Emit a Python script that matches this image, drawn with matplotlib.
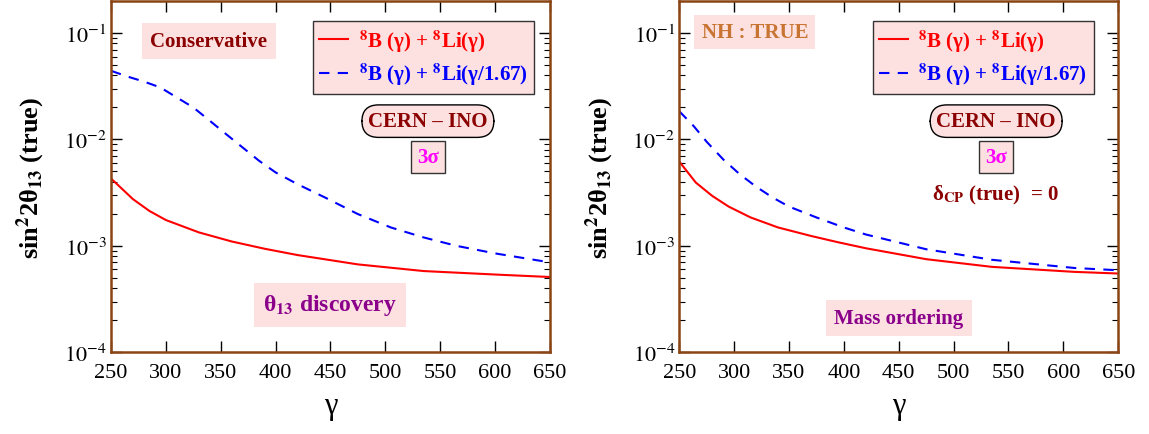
import numpy as np
import matplotlib
matplotlib.use("Agg")
import matplotlib.pyplot as plt
from matplotlib.ticker import LogLocator, FixedLocator

plt.rcParams['font.family'] = ['Liberation Serif', 'DejaVu Serif']
plt.rcParams['mathtext.fontset'] = 'stix'

# values (gamma on x, sin^2 2theta13 on y)
cons_red_x = [250, 270, 285, 300, 330, 360, 390, 420, 475, 535, 605, 650]
cons_red = [4.3e-3, 2.75e-3, 2.13e-3, 1.75e-3, 1.34e-3, 1.10e-3, 9.4e-4,
            8.2e-4, 6.7e-4, 5.8e-4, 5.35e-4, 5.1e-4]

cons_blue_x = [250, 265, 280, 295, 310, 325, 340, 355, 370, 385, 400, 420,
               445, 475, 505, 535, 565, 600, 650]
cons_blue = [0.0442, 0.039, 0.035, 0.0308, 0.0248, 0.020, 0.015, 0.0112,
             8.4e-3, 6.3e-3, 4.9e-3, 3.8e-3, 2.85e-3, 1.99e-3, 1.49e-3,
             1.2e-3, 1.0e-3, 8.5e-4, 7.0e-4]

mo_red_x = [250, 265, 280, 295, 315, 340, 370, 395, 420, 475, 535, 610, 650]
mo_red = [6.2e-3, 3.94e-3, 2.95e-3, 2.34e-3, 1.85e-3, 1.49e-3, 1.24e-3,
          1.08e-3, 9.5e-4, 7.5e-4, 6.35e-4, 5.7e-4, 5.5e-4]

mo_blue_x = [250, 263, 275, 290, 305, 320, 335, 350, 375, 400, 420, 475,
             535, 610, 650]
mo_blue = [0.0184, 0.0134, 9.5e-3, 6.5e-3, 4.72e-3, 3.6e-3, 2.85e-3, 2.34e-3,
           1.85e-3, 1.49e-3, 1.28e-3, 9.3e-4, 7.4e-4, 6.2e-4, 5.9e-4]

xticks = [250, 300, 350, 400, 450, 500, 550, 600, 650]
yticks = [1e-4, 1e-3, 1e-2, 1e-1]
yticklabels = [r'$10^{-4}$', r'$10^{-3}$', r'$10^{-2}$', r'$10^{-1}$']

lab_red = r'$^{\mathbf{8}}$B (γ) + $^{\mathbf{8}}$Li(γ)'
lab_blue = r'$^{\mathbf{8}}$B (γ) + $^{\mathbf{8}}$Li(γ/1.67)'

pink = '#fde0e0'
brown = '#8b4513'
darkred = '#8b0000'
purple = '#8b008b'


def setup(ax, xr, yr, xb, yb, legx):
    ax.plot(xr, yr, color='red', lw=1.5, label=lab_red)
    ax.plot(xb, yb, color='blue', lw=1.5, ls=(0, (5, 4)), label=lab_blue)
    ax.set_yscale('log')
    ax.set_xlim(250, 650)
    ax.set_ylim(1e-4, 0.2)
    ax.xaxis.set_major_locator(FixedLocator(xticks))
    ax.yaxis.set_major_locator(FixedLocator(yticks))
    ax.yaxis.set_minor_locator(LogLocator(base=10, subs=np.arange(2, 10)))
    ax.yaxis.set_minor_formatter(plt.NullFormatter())
    ax.set_yticklabels(yticklabels)
    ax.tick_params(which='both', direction='in', top=True, right=True,
                   labelsize=16, color='black')
    ax.tick_params(which='major', length=8, width=1)
    ax.tick_params(which='minor', length=4, width=0.8)
    ax.tick_params(axis='x', pad=8)
    ax.tick_params(axis='y', pad=3)
    for s in ax.spines.values():
        s.set_color(brown)
        s.set_linewidth(1.8)
    ax.set_xlabel('γ', fontsize=22, labelpad=6)
    ax.set_ylabel(r'sin$^{\mathbf{2}}$2θ$_{\mathbf{13}}$ (true)', fontsize=19,
                  fontweight='bold', labelpad=12)
    leg = ax.legend(loc='upper right', bbox_to_anchor=(legx, 0.943),
                    fancybox=False, framealpha=1, facecolor=pink,
                    edgecolor='#333333', handlelength=1.4, handletextpad=0.5,
                    prop={'weight': 'bold', 'size': 15}, borderpad=0.3,
                    labelspacing=0.35, borderaxespad=0)
    leg.get_frame().set_linewidth(1.0)
    for t, c in zip(leg.get_texts(), ['red', 'blue']):
        t.set_color(c)
    ax.text(0.722, 0.658, 'CERN – INO', transform=ax.transAxes, ha='center',
            va='center', fontsize=15, fontweight='bold', color=darkred,
            bbox=dict(boxstyle='round,pad=0.3,rounding_size=0.8',
                      fc=pink, ec='black', lw=1))
    ax.text(0.722, 0.556, '3σ', transform=ax.transAxes, ha='center',
            va='center', fontsize=15, fontweight='bold', color='#ff00ff',
            bbox=dict(boxstyle='square,pad=0.3', fc=pink, ec='#333333', lw=1))


fig = plt.figure(figsize=(11.49, 4.35), dpi=100)
ax1 = fig.add_axes([0.0966, 0.1878, 0.382, 0.8076])
ax2 = fig.add_axes([0.5912, 0.1878, 0.382, 0.8076])

setup(ax1, cons_red_x, cons_red, cons_blue_x, cons_blue, 0.9636)
setup(ax2, mo_red_x, mo_red, mo_blue_x, mo_blue, 0.944)

ax1.text(0.223, 0.886, 'Conservative', transform=ax1.transAxes, ha='center',
         va='center', fontsize=15, fontweight='bold', color=darkred,
         bbox=dict(boxstyle='square,pad=0.4', fc=pink, ec='none'))
ax1.text(0.499, 0.135, r'θ$_{\mathbf{13}}$ discovery', transform=ax1.transAxes,
         ha='center', va='center', fontsize=17, fontweight='bold', color=purple,
         bbox=dict(boxstyle='square,pad=0.4', fc=pink, ec='none'))

ax2.text(0.172, 0.912, 'NH : TRUE', transform=ax2.transAxes, ha='center',
         va='center', fontsize=15, fontweight='bold', color='#c87533',
         bbox=dict(boxstyle='square,pad=0.35', fc=pink, ec='none'))
ax2.text(0.72, 0.448, r'δ$_{\mathbf{CP}}$ (true)  = 0', transform=ax2.transAxes,
         ha='center', va='center', fontsize=15, fontweight='bold', color=darkred)
ax2.text(0.4996, 0.0976, 'Mass ordering', transform=ax2.transAxes, ha='center',
         va='center', fontsize=15, fontweight='bold', color=purple,
         bbox=dict(boxstyle='square,pad=0.4', fc=pink, ec='none'))

fig.savefig('out.png', dpi=100)
